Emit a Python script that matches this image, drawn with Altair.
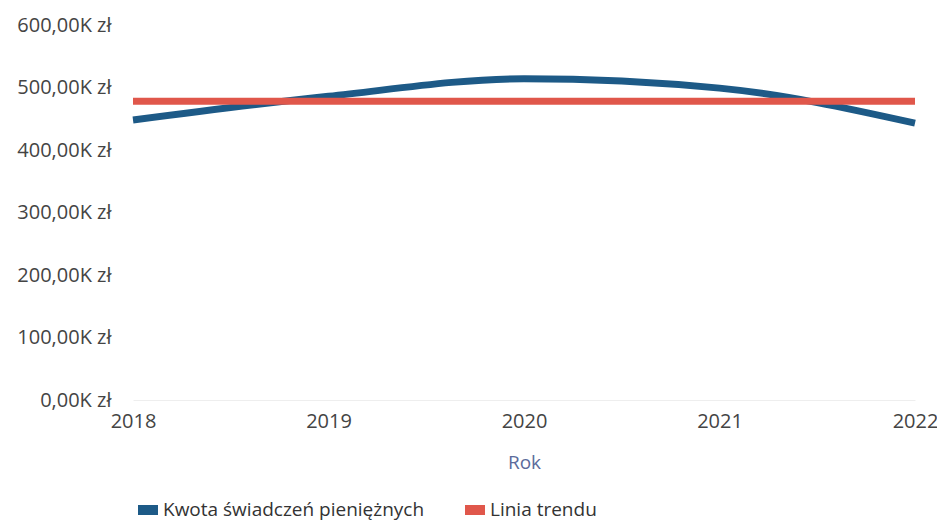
import altair as alt
import pandas as pd

years = [2018, 2019, 2020, 2021, 2022]
amounts = [448000, 486000, 514000, 499000, 443000]
trend = [478000, 478000, 478000, 478000, 478000]
series_names = ["Kwota świadczeń pieniężnych", "Linia trendu"]
colors = ["#1d5a87", "#e0574b"]

rows = []
for y, a, t in zip(years, amounts, trend):
    rows.append({"Rok": y, "Wartość": a, "Seria": series_names[0]})
    rows.append({"Rok": y, "Wartość": t, "Seria": series_names[1]})
df = pd.DataFrame(rows)

FONT = "Open Sans"

chart = alt.Chart(df).mark_line(strokeWidth=7, interpolate="monotone", strokeCap="butt").encode(
    x=alt.X("Rok:Q",
            scale=alt.Scale(domain=[2018, 2022], nice=False, zero=False),
            axis=alt.Axis(values=years, format="d", title="Rok", grid=False, ticks=False,
                          domain=True, domainColor="#eeeeee", domainWidth=1,
                          labelFlush=False,
                          labelFontSize=20, labelColor="#444444", labelFont=FONT,
                          labelPadding=11, titleFontSize=19, titleColor="#5b6b9b",
                          titleFont=FONT, titleFontWeight="normal", titlePadding=22)),
    y=alt.Y("Wartość:Q",
            scale=alt.Scale(domain=[0, 600000], nice=False),
            axis=alt.Axis(values=[0, 100000, 200000, 300000, 400000, 500000, 600000],
                          labelExpr="replace(format(datum.value/1000, '.2f'), '.', ',') + 'K zł'",
                          title=None, grid=False, ticks=False, domain=False,
                          labelFontSize=20, labelColor="#444444", labelFont=FONT,
                          labelPadding=22)),
    color=alt.Color("Seria:N",
                    scale=alt.Scale(domain=series_names, range=colors),
                    legend=alt.Legend(orient="bottom", direction="horizontal", title=None,
                                      symbolType="stroke", symbolSize=400,
                                      symbolStrokeWidth=10, symbolOpacity=1,
                                      labelLimit=0,
                                      labelFontSize=19, labelColor="#333333", labelFont=FONT,
                                      labelOffset=0, columnPadding=20, offset=23)),
).properties(
    width=782,
    height=375,
    autosize=alt.AutoSizeParams(type="none"),
    padding={"left": 125, "top": 17, "right": 22, "bottom": 130},
).configure_view(stroke=None)

chart.save("out.html", embed_options={"renderer": "svg", "actions": False})
